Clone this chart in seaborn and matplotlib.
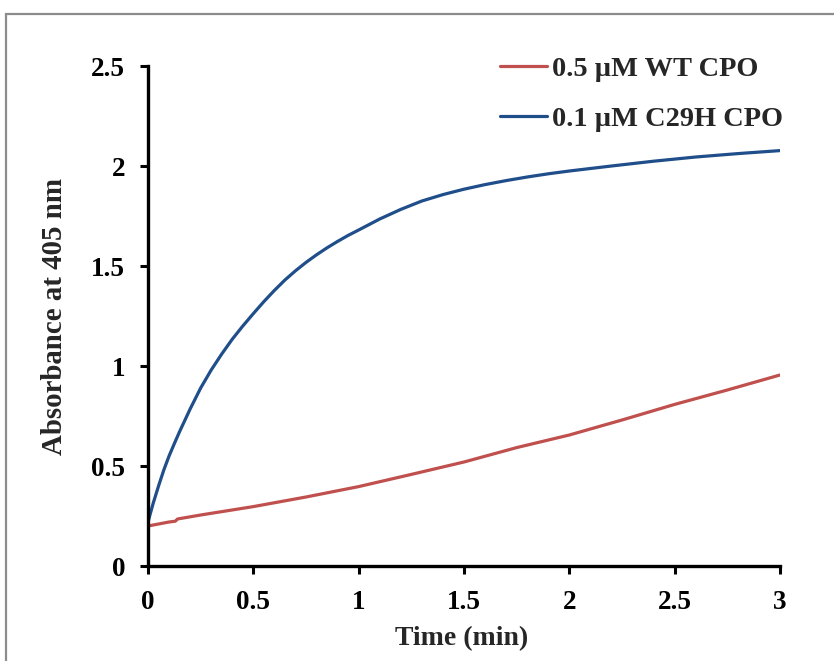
import pandas as pd
import matplotlib
matplotlib.use("Agg")
import matplotlib.pyplot as plt
import matplotlib.patches as mpatches
from matplotlib.ticker import FuncFormatter, MultipleLocator
import seaborn as sns

# Readings (time in min, absorbance at 405 nm)
wt_label = "0.5 \u00b5M WT CPO"
wt_time = [0.0, 0.1, 0.13, 0.14, 0.25, 0.5, 0.75, 1.0, 1.25, 1.5, 1.75, 2.0, 2.25, 2.5, 2.75, 3.0]
wt_abs = [0.20, 0.22, 0.224, 0.235, 0.255, 0.297, 0.345, 0.397, 0.458, 0.52, 0.592, 0.655, 0.73, 0.808, 0.88, 0.955]

mut_label = "0.1 \u00b5M C29H CPO"
mut_time = [0.0, 0.025, 0.05, 0.075, 0.1, 0.125, 0.15, 0.2, 0.25, 0.3, 0.35, 0.4, 0.45, 0.5,
            0.55, 0.6, 0.65, 0.7, 0.75, 0.8, 0.85, 0.9, 0.95, 1.0, 1.1, 1.2, 1.3, 1.4, 1.5,
            1.6, 1.7, 1.8, 1.9, 2.0, 2.2, 2.4, 2.6, 2.8, 3.0]
mut_abs = [0.22, 0.315, 0.40, 0.48, 0.55, 0.612, 0.672, 0.785, 0.89, 0.98, 1.06, 1.134, 1.20, 1.262,
           1.322, 1.378, 1.43, 1.476, 1.518, 1.556, 1.591, 1.623, 1.653, 1.68, 1.735, 1.783, 1.825, 1.857, 1.884,
           1.907, 1.927, 1.945, 1.961, 1.975, 2.0, 2.024, 2.045, 2.062, 2.077]

colors = {wt_label: "#C0504D", mut_label: "#1F4E8A"}

df = pd.concat([
    pd.DataFrame({"Time": wt_time, "Abs": wt_abs, "Sample": wt_label}),
    pd.DataFrame({"Time": mut_time, "Abs": mut_abs, "Sample": mut_label}),
])

sns.set_style("ticks")
plt.rcParams["font.family"] = ["Liberation Serif", "DejaVu Serif"]
plt.rcParams["font.weight"] = "bold"
fs = 19.5

fig = plt.figure(figsize=(8.34, 6.61), dpi=100)
ax = fig.add_axes([148 / 834, 1 - 566 / 661, (780 - 148) / 834, 500 / 661])

sns.lineplot(data=df, x="Time", y="Abs", hue="Sample", palette=colors,
             linewidth=2.3, ax=ax, legend=True, sort=False)

ax.set_xlim(0, 3)
ax.set_ylim(0, 2.5)
ax.xaxis.set_major_locator(MultipleLocator(0.5))
ax.yaxis.set_major_locator(MultipleLocator(0.5))
fmt = FuncFormatter(lambda v, p: "%g" % v)
ax.xaxis.set_major_formatter(fmt)
ax.yaxis.set_major_formatter(fmt)

for side in ["top", "right"]:
    ax.spines[side].set_visible(False)
for side in ["left", "bottom"]:
    ax.spines[side].set_linewidth(2.4)
    ax.spines[side].set_color("black")
ax.spines["left"].set_zorder(5)

ax.tick_params(axis="both", direction="out", length=5.5, width=2.2, color="black",
               labelsize=fs, labelcolor="black")
ax.tick_params(axis="x", pad=12)
ax.tick_params(axis="y", pad=11)
for lab in ax.get_xticklabels() + ax.get_yticklabels():
    lab.set_fontweight("bold")

ax.set_xlabel("Time (min)", fontsize=20, fontweight="bold")
ax.set_ylabel("Absorbance at 405 nm", fontsize=20.8, fontweight="bold")
ax.xaxis.set_label_coords(0.497, -0.12)
ax.yaxis.set_label_coords(-0.127, 0.5)

ax.legend(loc="upper left", bbox_to_anchor=(500 / 834, 1 - 56 / 661),
          bbox_transform=fig.transFigure, frameon=False, borderpad=0,
          borderaxespad=0, handlelength=1.65, handletextpad=0.2,
          labelspacing=0.85, prop={"size": 20.4, "weight": "bold"})

# grey chart-area border (runs off the right and bottom edges)
fig.patches.append(mpatches.Rectangle((6 / 834, -0.1), 1.2, 1 - 14 / 661 + 0.1,
                                      transform=fig.transFigure, fill=False,
                                      edgecolor="#8c8c8c", linewidth=1.6))

fig.savefig("out.png", dpi=100)
